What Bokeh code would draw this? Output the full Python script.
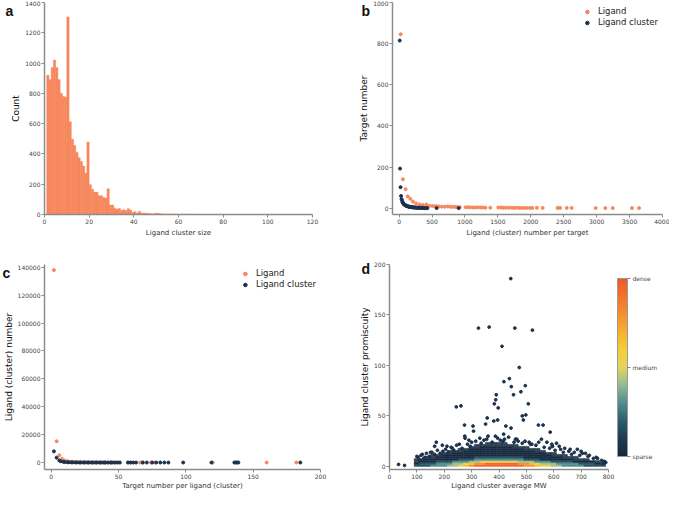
from bokeh.plotting import figure
from bokeh.layouts import column, row
from bokeh.models import (ColumnDataSource, Range1d, FixedTicker, Label,
                          LinearColorMapper, ColorBar, BasicTickFormatter)
from bokeh.embed import file_html
from bokeh.resources import INLINE

# ---------------- data ----------------
# (a) histogram of ligand cluster size, bins of width 1 starting at 1
cluster_size_bin_left = list(range(1, 67))
cluster_size_counts = [920, 890, 970, 1020, 970, 890, 800, 780, 775, 1305,
                       612, 497, 455, 410, 375, 350, 320, 272, 478, 197,
                       167, 147, 147, 124, 124, 112, 108, 170, 62, 62,
                       42, 35, 40, 27, 32, 24, 38, 30, 14, 18,
                       9, 20, 9, 8, 9, 7, 5, 3, 6, 8,
                       6, 3, 2, 3, 2, 4, 2, 1, 2, 1,
                       1, 2, 1, 1, 1, 1]

# (b) ligand (cluster) number per target vs target number
b_lig_x = [24, 58, 98, 132, 171, 210, 259, 312, 361, 415, 463, 507, 537, 571,
           605, 649, 693, 737, 776, 810, 849, 883, 922, 1010, 1049, 1083, 1122,
           1156, 1195, 1234, 1273, 1312, 1385, 1507, 1546, 1580, 1620, 1663,
           1707, 1741, 1780, 1820, 1858, 1898, 1937, 1985, 2024, 2093, 2180,
           2405, 2444, 2546, 2620, 2985, 3132, 3244, 3537, 3644]
b_lig_y = [846, 141, 93, 58, 46, 33, 24, 19, 16, 19, 12, 11, 10, 10,
           9, 8, 8, 9, 8, 7, 7, 6, 6, 5, 5, 5, 4,
           4, 5, 4, 4, 3, 3, 4, 4, 3, 3, 3,
           3, 2, 3, 2, 2, 2, 2, 2, 2, 3, 2,
           2, 2, 2, 2, 1, 1, 1, 1, 1]
b_clu_x = [10, 15, 22, 30, 37, 45, 52, 60, 68, 75, 83, 90, 98, 105, 113, 120,
           130, 140, 150, 160, 170, 180, 190, 200, 210, 220, 232, 245, 258, 270,
           283, 297, 310, 325, 340, 355, 370, 385, 400, 415, 430, 570, 905]
b_clu_y = [815, 193, 103, 60, 45, 38, 30, 26, 22, 19, 18, 16, 14, 13, 12, 11,
           10, 9, 8, 7, 7, 6, 6, 5, 5, 4, 4, 4, 3, 3,
           3, 3, 2, 2, 2, 2, 2, 1, 1, 1, 1, 1, 1]

# (c) target number per ligand (cluster) vs ligand (cluster) number
c_lig_x = [2, 4, 6, 8, 10, 12, 14, 16, 18, 20, 22, 24, 26, 28, 30, 32, 34, 36,
           38, 40, 42, 44, 46, 48, 50, 57, 59, 66, 68, 74, 77, 120, 160, 182]
c_lig_y = [138000, 15300, 5200, 2600, 1500, 950, 640, 450, 330, 250, 190, 150,
           120, 95, 80, 65, 55, 45, 40, 34, 30, 26, 22, 20, 17, 12, 11, 8, 7,
           6, 5, 2, 1, 1]
c_clu_x = [2, 4, 6, 7, 9, 10, 12, 13, 15, 16, 18, 19, 21, 22, 24, 25, 27, 28,
           30, 31, 33, 34, 36, 37, 39, 40, 42, 44, 45, 47, 49, 51, 57, 59, 61,
           63, 68, 71, 75, 78, 81, 84, 87, 98, 119, 136, 137, 138, 139, 185]
c_clu_y = [8000, 3500, 1500, 880, 520, 340, 240, 170, 130, 100, 80, 65, 52, 44,
           37, 31, 27, 23, 20, 17, 15, 13, 11, 10, 9, 8, 7, 6, 6, 5, 5, 4, 3,
           3, 3, 2, 2, 2, 2, 2, 1, 1, 1, 1, 1, 1, 1, 1, 1, 1]

# (d) ligand cluster average MW vs promiscuity: individual (sparse) clusters
d_out_x = [443, 325, 364, 458, 522, 411, 474, 418, 438, 445, 496, 480, 390, 388,
           383, 397, 453, 507, 485, 489, 498, 261, 244, 274, 305, 307, 357, 351,
           381, 395, 425, 444, 417, 544, 561, 587, 171, 193, 275, 276, 387, 593,
           595, 686, 716, 33, 55, 150, 165, 210, 230, 255, 290, 300, 330, 345,
           360, 420, 460, 470, 510, 520, 555, 575, 610, 620, 640, 660, 700, 730,
           760, 790, 780, 120, 130, 110, 100,
           105, 115, 125, 135, 145, 155, 165, 175, 185, 195, 205, 215, 225, 235,
           245, 265, 285, 295, 315, 335, 355, 375, 395, 405, 415, 435, 455, 465,
           485, 495, 515, 535, 545, 565, 585, 595, 605, 625, 635, 655, 665, 675,
           695, 705, 725, 745, 755, 775, 785]
d_out_y = [186, 137, 138, 137, 135, 119, 98, 84, 87, 79, 80, 74, 71, 66,
           62, 58, 71, 62, 50, 46, 51, 60, 59, 41, 40, 35, 48, 42,
           45, 46, 40, 38, 32, 41, 41, 34, 24, 21, 30, 28, 30, 22,
           20, 17, 13, 2, 1, 14, 20, 20, 18, 22, 26, 24, 28, 26,
           30, 27, 27, 25, 24, 22, 27, 24, 23, 20, 18, 17, 15, 11,
           8, 4, 3, 12, 9, 6, 10,
           9, 11, 8, 13, 10, 14, 12, 16, 13, 15, 17, 14, 19, 16,
           21, 18, 22, 20, 25, 23, 27, 24, 28, 26, 25, 29, 24, 27,
           23, 25, 22, 21, 24, 19, 18, 20, 16, 17, 14, 15, 12, 14,
           11, 13, 10, 8, 9, 6, 5]
# density grid (0 = empty, 1 = sparse ... 9 = dense), rows from y=0 upward
mw_bin_centers = [100, 120, 140, 160, 180, 200, 220, 240, 260, 280, 300, 320,
                  340, 360, 380, 400, 420, 440, 460, 480, 500, 520, 540, 560,
                  580, 600, 620, 640, 660, 680, 700, 720, 740, 760, 780]
prom_bin_centers = [1, 3, 5, 7, 9, 11, 13, 15, 17, 19, 21, 23]
density_rows = [
    "333" "444" "55" "6" "7" "8" "999999999" "88" "7" "66" "55" "4444" "3333",
    "2" "333" "444" "55" "6" "7" "88" "999999" "88" "7" "6" "555" "4444" "333" "22",
    "1" "222" "333" "444" "55" "6666666" "555" "444" "3333" "2222" "1" "0",
    "11" "222222" "333" "444444444" "333" "222222" "111" "000",
    "00" "11" "2222222" "333333333" "2222222" "111" "00000",
    "000" "11" "22222222222222222222" "111" "0000000",
    "00000" "11" "22222222222222222" "11" "000000000",
    "000000" "111" "2222222222222" "11" "00000000000",
    "00000000" "11" "2222222222" "111" "000000000000",
    "0000000000" "11" "222222" "111" "00000000000000",
    "00000000000" "11111111" "0000000000000000",
    "0000000000000" "1111" "000000000000000000",
]

# ---------------- style ----------------
FONT = "DejaVu Sans"
AX = "#8c8c8c"
ORANGE = "#f7875c"
NAVY = "#1b324c"


def interp_palette(anchors, n):
    rgb = [tuple(int(a[i:i + 2], 16) for i in (1, 3, 5)) for a in anchors]
    out = []
    for k in range(n):
        t = k / (n - 1) * (len(rgb) - 1)
        j = min(int(t), len(rgb) - 2)
        f = t - j
        c = tuple(round(rgb[j][m] * (1 - f) + rgb[j + 1][m] * f) for m in range(3))
        out.append("#%02x%02x%02x" % c)
    return out


PAL = interp_palette(["#15283c", "#1d3d52", "#2c5f6c", "#4f8e8c", "#93ba94",
                      "#e2d45c", "#f5cf34", "#f6b030", "#f5902d", "#f2742c",
                      "#ee592a"], 128)


def style(p, xt, yt, xlabel, ylabel):
    p.xaxis.ticker = FixedTicker(ticks=xt)
    p.yaxis.ticker = FixedTicker(ticks=yt)
    p.xaxis.formatter = BasicTickFormatter(use_scientific=False)
    p.yaxis.formatter = BasicTickFormatter(use_scientific=False)
    p.grid.visible = False
    p.outline_line_color = None
    p.background_fill_color = "white"
    p.border_fill_color = "white"
    for ax in (p.xaxis[0], p.yaxis[0]):
        ax.axis_line_color = AX
        ax.axis_line_width = 1.5
        ax.major_tick_line_color = AX
        ax.major_tick_out = 3
        ax.major_tick_in = 0
        ax.minor_tick_line_color = None
        ax.major_label_text_font = FONT
        ax.major_label_text_font_size = "6px"
        ax.major_label_text_color = "#444444"
        ax.major_label_standoff = 1
        ax.axis_label_text_font = FONT
        ax.axis_label_text_font_style = "normal"
    p.xaxis.axis_label = xlabel
    p.yaxis.axis_label = ylabel
    p.xaxis.axis_label_text_font_size = "7px"
    p.xaxis.axis_label_text_color = "#333333"
    p.yaxis.axis_label_text_font_size = "9px"
    p.yaxis.axis_label_text_color = "#111111"
    p.xaxis.axis_label_standoff = 2
    p.yaxis.axis_label_standoff = 1


def panel_label(p, text, x, y, xoff, side):
    p.add_layout(Label(x=x, y=y, x_offset=xoff, text=text, text_font="Liberation Sans",
                       text_font_style="bold", text_font_size="14px",
                       text_baseline="top", text_color="#111111"), side)


def style_legend(p):
    lg = p.legend[0]
    lg.location = "top_right"
    lg.background_fill_alpha = 0
    lg.border_line_color = None
    lg.label_text_font = FONT
    lg.label_text_font_size = "8.5px"
    lg.label_text_color = "#222222"
    lg.glyph_width = 14
    lg.glyph_height = 9
    lg.label_height = 9
    lg.spacing = 1
    lg.padding = 2
    lg.margin = 4
    lg.label_standoff = 4


common = dict(output_backend="svg", toolbar_location=None)

# ---------------- (a) ----------------
pa = figure(width=336, height=244, x_range=Range1d(0, 120), y_range=Range1d(0, 1400),
            min_border_left=31, min_border_right=24, min_border_top=2, min_border_bottom=30,
            **common)
src_a = ColumnDataSource(dict(left=cluster_size_bin_left,
                              right=[v + 1 for v in cluster_size_bin_left],
                              top=cluster_size_counts))
pa.quad(left="left", right="right", bottom=0, top="top", source=src_a,
        fill_color=ORANGE, line_color=ORANGE, line_width=0.5)
style(pa, [0, 20, 40, 60, 80, 100, 120], [0, 200, 400, 600, 800, 1000, 1200, 1400],
      "Ligand cluster size", "Count")
panel_label(pa, "a", 0, 1400, -39, "left")

# ---------------- (b) ----------------
pb = figure(width=333, height=244, x_range=Range1d(-100, 4000), y_range=Range1d(-30, 1000),
            min_border_left=56, min_border_right=7, min_border_top=2, min_border_bottom=30,
            **common)
pb.scatter(b_lig_x, b_lig_y, size=3, color=ORANGE, legend_label="Ligand")
pb.scatter(b_clu_x, b_clu_y, size=3, color=NAVY, legend_label="Ligand cluster")
style(pb, [0, 500, 1000, 1500, 2000, 2500, 3000, 3500, 4000], [0, 200, 400, 600, 800, 1000],
      "Ligand (cluster) number per target", "Target number")
style_legend(pb)
panel_label(pb, "b", -100, 1000, -31, "left")

# ---------------- (c) ----------------
pc = figure(width=336, height=248, x_range=Range1d(-5, 200), y_range=Range1d(-5000, 142000),
            min_border_left=31, min_border_right=16, min_border_top=20, min_border_bottom=20,
            **common)
pc.scatter(c_lig_x, c_lig_y, size=3, color=ORANGE, legend_label="Ligand")
pc.scatter(c_clu_x, c_clu_y, size=3, color=NAVY, legend_label="Ligand cluster")
style(pc, [0, 50, 100, 150, 200],
      [0, 20000, 40000, 60000, 80000, 100000, 120000, 140000],
      "Target number per ligand (cluster)", "Ligand (cluster) number")
pc.xaxis.axis_label_standoff = 0
style_legend(pc)
panel_label(pc, "c", -5, 142000, -42, "above")

# ---------------- (d) ----------------
pd = figure(width=333, height=248, x_range=Range1d(0, 800), y_range=Range1d(-3, 200),
            min_border_left=53, min_border_right=58, min_border_top=20, min_border_bottom=20,
            **common)
LEVEL_FRAC = {1: 0.0, 2: 0.02, 3: 0.17, 4: 0.3, 5: 0.42, 6: 0.53, 7: 0.66, 8: 0.8, 9: 0.96}
gx, gy, gc, ga = [], [], [], []
for r, rowstr in enumerate(density_rows):
    rowstr = rowstr.ljust(len(mw_bin_centers), "0")[:len(mw_bin_centers)]
    for i, ch in enumerate(rowstr):
        lev = int(ch)
        if lev == 0:
            continue
        gx.append(mw_bin_centers[i])
        gy.append(prom_bin_centers[r])
        gc.append(PAL[int(LEVEL_FRAC[lev] * (len(PAL) - 1))])
        ga.append(0.85 if lev == 1 else 1.0)
src_d = ColumnDataSource(dict(x=gx, y=gy, c=gc, a=ga))
pd.rect(x="x", y="y", width=20, height=2, source=src_d, fill_color="c", fill_alpha="a",
        line_color="c", line_alpha="a", line_width=0.4)
pd.scatter(d_out_x, d_out_y, size=2.8, color=NAVY)
style(pd, [0, 100, 200, 300, 400, 500, 600, 700, 800], [0, 50, 100, 150, 200],
      "Ligand cluster average MW", "Ligand cluster promiscuity")
pd.xaxis.axis_label_standoff = 0
panel_label(pd, "d", 0, 203, -28, "left")

cmap = LinearColorMapper(palette=PAL, low=0, high=1)
cb = ColorBar(color_mapper=cmap, ticker=FixedTicker(ticks=[0, 0.5, 1]),
              major_label_overrides={0: "sparse", 0.5: "medium", 1: "dense"},
              width=10, height=178, location="center_left", padding=9,
              bar_line_color="#999999", border_line_color=None,
              background_fill_alpha=0,
              major_tick_line_color="#888888", major_tick_in=0, major_tick_out=3,
              minor_tick_line_color=None, label_standoff=2,
              major_label_text_font=FONT, major_label_text_font_size="6px",
              major_label_text_color="#444444")
pd.add_layout(cb, "right")

layout = column(row(pa, pb), row(pc, pd))
open("out.html", "w").write(file_html(layout, INLINE))
